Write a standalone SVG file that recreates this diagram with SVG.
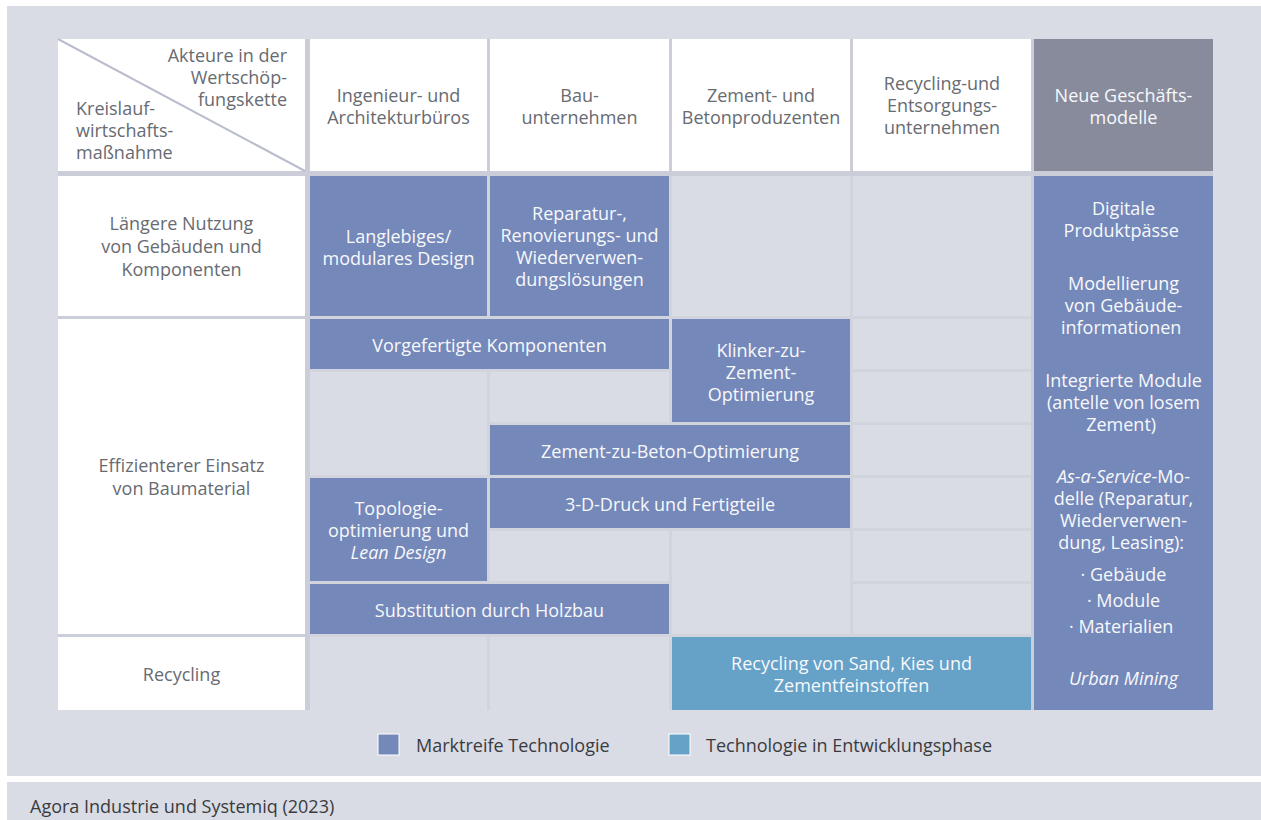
<svg xmlns="http://www.w3.org/2000/svg" width="1261" height="820" viewBox="0 0 1261 820">
<style>
  text { font-family: "Open Sans", "Noto Sans", "Liberation Sans", sans-serif; font-size: 18px; }
  .lbl { fill: #676b72; }
  .w { fill: #f7f8fb; }
  .c { text-anchor: middle; }
  .it { font-style: italic; }
  .white { fill: #ffffff; }
  .gray { fill: #d9dce4; }
  .blue { fill: #7588ba; }
  .lblue { fill: #66a1c8; }
  .dark { fill: #878b9c; }
  .leg { fill: #3a3b3f; }
</style>
<rect x="0" y="0" width="1261" height="820" fill="#ffffff"/>
<rect x="7" y="6" width="1254" height="770" fill="#d9dce4"/>
<rect x="7" y="782" width="1254" height="38" fill="#d9dce4"/>

<!-- table grid background -->
<rect x="58" y="39" width="1155" height="671" fill="#cbced8"/>
<rect x="310" y="176" width="721" height="534" fill="#d1d4dd"/>

<g id="gray-cells">
  <rect class="gray" x="672" y="176" width="178" height="140"/>
  <rect class="gray" x="853" y="176" width="178" height="140"/>
  <rect class="gray" x="310" y="372" width="177" height="103"/>
  <rect class="gray" x="490" y="372" width="179" height="50"/>
  <rect class="gray" x="853" y="319" width="178" height="50"/>
  <rect class="gray" x="853" y="372" width="178" height="50"/>
  <rect class="gray" x="853" y="425" width="178" height="50"/>
  <rect class="gray" x="853" y="478" width="178" height="50"/>
  <rect class="gray" x="490" y="531" width="179" height="50"/>
  <rect class="gray" x="672" y="531" width="178" height="103"/>
  <rect class="gray" x="853" y="531" width="178" height="50"/>
  <rect class="gray" x="853" y="584" width="178" height="50"/>
  <rect class="gray" x="310" y="637" width="177" height="73"/>
  <rect class="gray" x="490" y="637" width="179" height="73"/>
</g>

<g id="header-corner">
  <rect class="white" x="58" y="39" width="247" height="132"/>
  <line x1="58" y1="39" x2="305" y2="171" stroke="#b9bdcc" stroke-width="2"/>
  <text class="lbl" text-anchor="end"><tspan x="287" y="62">Akteure in der</tspan><tspan x="287" y="84">Wertschöp-</tspan><tspan x="287" y="106">fungskette</tspan></text>
  <text class="lbl"><tspan x="76" y="115">Kreislauf-</tspan><tspan x="76" y="137">wirtschafts-</tspan><tspan x="76" y="159">maßnahme</tspan></text>
</g>

<g id="header-ingenieur">
  <rect class="white" x="310" y="39" width="177" height="132"/>
  <text class="lbl c"><tspan x="398.5" y="102">Ingenieur- und</tspan><tspan x="398.5" y="124">Architekturbüros</tspan></text>
</g>
<g id="header-bau">
  <rect class="white" x="490" y="39" width="179" height="132"/>
  <text class="lbl c"><tspan x="579.5" y="102">Bau-</tspan><tspan x="579.5" y="124">unternehmen</tspan></text>
</g>
<g id="header-zement">
  <rect class="white" x="672" y="39" width="178" height="132"/>
  <text class="lbl c"><tspan x="761" y="102">Zement- und</tspan><tspan x="761" y="124">Betonproduzenten</tspan></text>
</g>
<g id="header-recycling">
  <rect class="white" x="853" y="39" width="178" height="132"/>
  <text class="lbl c"><tspan x="942" y="90">Recycling-und</tspan><tspan x="942" y="112">Entsorgungs-</tspan><tspan x="942" y="134">unternehmen</tspan></text>
</g>
<g id="header-neue">
  <rect class="dark" x="1034" y="39" width="179" height="132"/>
  <text class="w c"><tspan x="1123.5" y="102">Neue Geschäfts-</tspan><tspan x="1123.5" y="124">modelle</tspan></text>
</g>

<g id="row-laengere">
  <rect class="white" x="58" y="176" width="247" height="140"/>
  <text class="lbl c"><tspan x="181.5" y="230">Längere Nutzung</tspan><tspan x="181.5" y="253">von Gebäuden und</tspan><tspan x="181.5" y="276">Komponenten</tspan></text>
</g>
<g id="row-effizienter">
  <rect class="white" x="58" y="319" width="247" height="315"/>
  <text class="lbl c"><tspan x="181.5" y="472">Effizienterer Einsatz</tspan><tspan x="181.5" y="495">von Baumaterial</tspan></text>
</g>
<g id="row-recycling">
  <rect class="white" x="58" y="637" width="247" height="73"/>
  <text class="lbl c" x="181.5" y="681">Recycling</text>
</g>

<g id="langlebiges">
  <rect class="blue" x="310" y="176" width="177" height="140"/>
  <text class="w c"><tspan x="398.5" y="243">Langlebiges/</tspan><tspan x="398.5" y="265">modulares Design</tspan></text>
</g>
<g id="reparatur">
  <rect class="blue" x="490" y="176" width="179" height="140"/>
  <text class="w c"><tspan x="579.5" y="220">Reparatur-,</tspan><tspan x="579.5" y="242">Renovierungs- und</tspan><tspan x="579.5" y="264">Wiederverwen-</tspan><tspan x="579.5" y="286">dungslösungen</tspan></text>
</g>
<g id="vorgefertigte">
  <rect class="blue" x="310" y="319" width="359" height="50"/>
  <text class="w c" x="489.5" y="352">Vorgefertigte Komponenten</text>
</g>
<g id="klinker">
  <rect class="blue" x="672" y="319" width="178" height="103"/>
  <text class="w c"><tspan x="761" y="357">Klinker-zu-</tspan><tspan x="761" y="379">Zement-</tspan><tspan x="761" y="401">Optimierung</tspan></text>
</g>
<g id="zement-beton">
  <rect class="blue" x="490" y="425" width="360" height="50"/>
  <text class="w c" x="670" y="458">Zement-zu-Beton-Optimierung</text>
</g>
<g id="druck">
  <rect class="blue" x="490" y="478" width="360" height="50"/>
  <text class="w c" x="670" y="511">3-D-Druck und Fertigteile</text>
</g>
<g id="topologie">
  <rect class="blue" x="310" y="478" width="177" height="103"/>
  <text class="w c"><tspan x="398.5" y="515">Topologie-</tspan><tspan x="398.5" y="537">optimierung und</tspan><tspan x="398.5" y="559" class="it">Lean Design</tspan></text>
</g>
<g id="substitution">
  <rect class="blue" x="310" y="584" width="359" height="50"/>
  <text class="w c" x="489.5" y="617">Substitution durch Holzbau</text>
</g>
<g id="recycling-sand">
  <rect class="lblue" x="672" y="637" width="359" height="73"/>
  <text class="w c"><tspan x="851.5" y="670">Recycling von Sand, Kies und</tspan><tspan x="851.5" y="692">Zementfeinstoffen</tspan></text>
</g>
<g id="neue-modelle">
  <rect class="blue" x="1034" y="176" width="179" height="534"/>
  <text class="w c">
    <tspan x="1123.5" y="215">Digitale</tspan><tspan x="1123.5" y="237">Produktpässe</tspan>
    <tspan x="1123.5" y="290">Modellierung</tspan><tspan x="1123.5" y="312">von Gebäude-</tspan><tspan x="1123.5" y="334">informationen</tspan>
    <tspan x="1123.5" y="387">Integrierte Module</tspan><tspan x="1123.5" y="409">(antelle von losem</tspan><tspan x="1123.5" y="431">Zement)</tspan>
    <tspan x="1123.5" y="483"><tspan class="it">As-a-Service</tspan>-Mo-</tspan><tspan x="1123.5" y="505">delle (Reparatur,</tspan><tspan x="1123.5" y="527">Wiederverwen-</tspan><tspan x="1123.5" y="549">dung, Leasing):</tspan>
    <tspan x="1123.5" y="581">· Gebäude</tspan><tspan x="1123.5" y="607">· Module</tspan><tspan x="1123.5" y="633">· Materialien</tspan>
    <tspan x="1123.5" y="685" class="it">Urban Mining</tspan>
  </text>
</g>

<g id="connectors"></g>

<g id="legend">
  <rect x="378" y="734" width="21" height="21" fill="#7588ba" stroke="#ffffff" stroke-width="1"/>
  <text class="leg" x="416" y="752">Marktreife Technologie</text>
  <rect x="669" y="734" width="21" height="21" fill="#66a1c8" stroke="#ffffff" stroke-width="1"/>
  <text class="leg" x="706" y="752">Technologie in Entwicklungsphase</text>
</g>

<g id="footer">
  <text class="leg" x="30" y="813" font-size="17">Agora Industrie und Systemiq (2023)</text>
</g>
</svg>
